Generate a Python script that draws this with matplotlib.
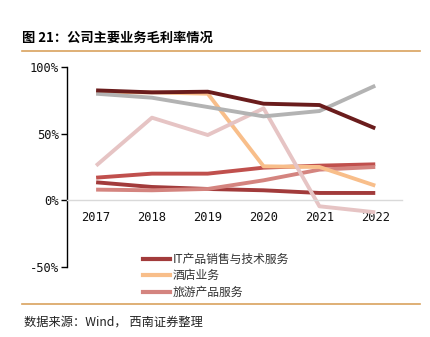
import matplotlib
matplotlib.use("Agg")
import matplotlib.pyplot as plt
from matplotlib.lines import Line2D

plt.rcParams['font.family'] = ['Noto Sans CJK SC', 'DejaVu Sans']

years = [2017, 2018, 2019, 2020, 2021, 2022]
year_labels = ['2017', '2018', '2019', '2020', '2021', '2022']

# gross margin series (%)
s_red = [17, 20, 20, 24.5, 26, 27]
s_it = [13.5, 10, 8.5, 7.5, 5.5, 5.5]
s_travel = [8, 7.5, 8.5, 15, 23, 25]
s_hotel = [81, 81, 80, 25.5, 25, 11]
s_pink = [26, 62, 49, 69, -4.5, -9]
s_gray = [80, 77, 70, 63, 67, 86]
s_dark = [82.5, 81, 81.5, 72.5, 71.5, 54]

legend_labels = ['IT产品销售与技术服务', '酒店业务', '旅游产品服务']

fig = plt.figure(figsize=(4.3, 3.37), dpi=100)
ax = fig.add_axes([0.156, 0.208, 0.779, 0.593])

lw = 2.8
ax.plot(years, s_red, color='#c0504d', lw=lw, solid_capstyle='butt')
ax.plot(years, s_it, color='#a23b3b', lw=lw, solid_capstyle='butt')
ax.plot(years, s_travel, color='#d4847f', lw=lw, solid_capstyle='butt')
ax.plot(years, s_hotel, color='#f8be8a', lw=lw, solid_capstyle='butt')
ax.plot(years, s_pink, color='#e6c4c4', lw=lw, solid_capstyle='butt')
ax.plot(years, s_gray, color='#b3b3b3', lw=lw, solid_capstyle='butt')
ax.plot(years, s_dark, color='#6a1c1c', lw=lw, solid_capstyle='butt')

ax.set_xlim(2016.48, 2022.48)
ax.set_ylim(-50, 100)
ax.set_yticks([-50, 0, 50, 100])
ax.set_yticklabels(['-50%', '0%', '50%', '100%'])
ax.set_xticks(years)
ax.set_xticklabels(year_labels)

for s in ['top', 'right']:
    ax.spines[s].set_visible(False)
ax.spines['bottom'].set_position(('data', 0))
ax.spines['bottom'].set_color('#d9d9d9')
ax.spines['bottom'].set_linewidth(1)
ax.spines['left'].set_color('black')
ax.spines['left'].set_linewidth(1)
ax.tick_params(axis='both', labelfontfamily='DejaVu Sans Mono', labelsize=8.7,
               labelcolor='#111111')
ax.tick_params(axis='x', length=0, pad=8)
ax.tick_params(axis='y', length=4, width=1, direction='out', pad=2)

handles = [Line2D([0], [0], color='#a23b3b', lw=3),
           Line2D([0], [0], color='#f8be8a', lw=3),
           Line2D([0], [0], color='#d4847f', lw=3)]
leg = fig.legend(handles, legend_labels, loc='upper left', bbox_to_anchor=(0.333, 0.25),
                 frameon=False, fontsize=8.5, handlelength=2.3, handletextpad=0.2,
                 labelspacing=0.3, borderpad=0, borderaxespad=0)
for t in leg.get_texts():
    t.set_color('#333333')

fig.text(0.051, 0.887, '图 21：公司主要业务毛利率情况', fontsize=9.5, fontweight='bold',
         va='center', ha='left')
fig.add_artist(Line2D([0.051, 0.977], [0.849, 0.849], color='#d9a25e', lw=1.2))
fig.add_artist(Line2D([0.051, 0.977], [0.098, 0.098], color='#d9a25e', lw=1.2))
fig.text(0.056, 0.045, '数据来源：Wind， 西南证券整理', fontsize=8.8, style='italic',
         va='center', ha='left', color='#222222')

fig.savefig('out.png', dpi=100)
